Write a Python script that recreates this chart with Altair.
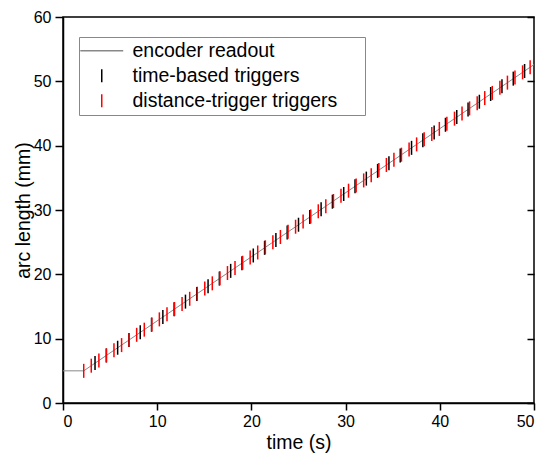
import altair as alt
import pandas as pd

series_names = ["encoder readout", "time-based triggers", "distance-trigger triggers"]
series_colors = ["#888888", "#000000", "#ff0000"]
series_shapes = ["M-3.3,0L3.3,0", "M0,-1L0,1", "M0,-1L0,1"]

# encoder readout (time s, arc length mm)
encoder_t = [0.0, 2.2, 50.0]
encoder_y = [5.0, 5.0, 52.6]

# time-based triggers
time_trig_t = [3.4, 4.6, 5.8, 7.0, 8.2, 9.4, 10.6, 11.8, 13.0, 14.2, 15.4, 16.6, 17.8,
               19.0, 20.2, 21.4, 22.6, 23.8, 25.0, 26.2, 27.4, 28.6, 29.8, 31.0, 32.2,
               33.4, 34.6, 35.8, 37.0, 38.2, 39.4, 40.6, 41.8, 43.0, 44.2, 45.4, 46.6,
               47.8, 49.0]
time_trig_y = [6.20, 7.39, 8.59, 9.78, 10.98, 12.17, 13.37, 14.56, 15.76, 16.95, 18.15,
               19.34, 20.54, 21.73, 22.93, 24.12, 25.32, 26.51, 27.71, 28.90, 30.10, 31.29,
               32.49, 33.68, 34.88, 36.08, 37.27, 38.47, 39.66, 40.86, 42.05, 43.25, 44.44,
               45.64, 46.83, 48.03, 49.22, 50.42, 51.61]

# distance-trigger triggers
dist_trig_t = [2.20, 3.00, 3.81, 4.61, 5.41, 6.22, 7.02, 7.82, 8.63, 9.43,
               10.23, 11.04, 11.84, 12.64, 13.45, 14.25, 15.05, 15.85, 16.66, 17.46,
               18.26, 19.07, 19.87, 20.67, 21.48, 22.28, 23.08, 23.89, 24.69, 25.49,
               26.30, 27.10, 27.90, 28.71, 29.51, 30.31, 31.12, 31.92, 32.72, 33.53,
               34.33, 35.13, 35.93, 36.74, 37.54, 38.34, 39.15, 39.95, 40.75, 41.56,
               42.36, 43.16, 43.97, 44.77, 45.57, 46.38, 47.18, 47.98, 48.79, 49.59]
dist_trig_y = [5.0, 5.8, 6.6, 7.4, 8.2, 9.0, 9.8, 10.6, 11.4, 12.2,
               13.0, 13.8, 14.6, 15.4, 16.2, 17.0, 17.8, 18.6, 19.4, 20.2,
               21.0, 21.8, 22.6, 23.4, 24.2, 25.0, 25.8, 26.6, 27.4, 28.2,
               29.0, 29.8, 30.6, 31.4, 32.2, 33.0, 33.8, 34.6, 35.4, 36.2,
               37.0, 37.8, 38.6, 39.4, 40.2, 41.0, 41.8, 42.6, 43.4, 44.2,
               45.0, 45.8, 46.6, 47.4, 48.2, 49.0, 49.8, 50.6, 51.4, 52.2]

x_ticks = [0, 10, 20, 30, 40, 50]
y_ticks = [0, 10, 20, 30, 40, 50, 60]

line_df = pd.DataFrame({"t": encoder_t, "y": encoder_y, "series": series_names[0]})
trig_df = pd.concat([
    pd.DataFrame({"t": time_trig_t, "y": time_trig_y, "series": series_names[1]}),
    pd.DataFrame({"t": dist_trig_t, "y": dist_trig_y, "series": series_names[2]}),
], ignore_index=True)

FONT = "Liberation Sans"

xscale = alt.Scale(domain=[0, 50], nice=False, zero=False)
yscale = alt.Scale(domain=[0, 60], nice=False)
color_scale = alt.Scale(domain=series_names, range=series_colors)
shape_scale = alt.Scale(domain=series_names, range=series_shapes)

# transparent right-side legend title only widens the legend frame
legend = alt.Legend(
    title="xx", titleOrient="right", titleColor="rgba(0,0,0,0)", titleFont=FONT,
    titleFontSize=19.5, titlePadding=2,
    orient="none", legendX=16, legendY=20,
    labelFont=FONT, labelFontSize=19.5, labelColor="black", labelLimit=500,
    symbolSize=169, symbolStrokeWidth=1.5, symbolOffset=9, labelOffset=21,
    padding=4, rowPadding=4, strokeColor="#888888", fillColor="white",
)

x_axis = alt.Axis(values=x_ticks, title="time (s)", tickSize=7, labelPadding=3,
                  titlePadding=4, grid=False)
y_axis = alt.Axis(values=y_ticks, title="arc length (mm)", tickSize=8, labelPadding=4,
                  titlePadding=0, grid=False)

line = alt.Chart(line_df).mark_line(strokeWidth=1).encode(
    x=alt.X("t:Q", scale=xscale, axis=x_axis),
    y=alt.Y("y:Q", scale=yscale, axis=y_axis),
    color=alt.Color("series:N", scale=color_scale, legend=legend),
)

trig = alt.Chart(trig_df).mark_point(filled=False, size=196, strokeWidth=1.5, opacity=1).encode(
    x=alt.X("t:Q", scale=xscale),
    y=alt.Y("y:Q", scale=yscale, axis=None),
    color=alt.Color("series:N", scale=color_scale, legend=legend),
    shape=alt.Shape("series:N", scale=shape_scale, legend=legend),
    order=alt.Order("series:N", sort="descending"),
)

right = alt.Chart(line_df).mark_line(strokeOpacity=0).encode(
    x=alt.X("t:Q", scale=xscale),
    y=alt.Y("y:Q", scale=yscale,
            axis=alt.Axis(orient="right", values=y_ticks, title=None, labels=False,
                          domain=False, tickSize=7, offset=-7, grid=False)),
)

chart = alt.layer(line, trig, right).resolve_axis(y="independent").properties(
    width=471, height=386,
    autosize=alt.AutoSizeParams(type="none"),
    padding={"left": 55, "top": 9, "right": 9, "bottom": 53},
).configure_axis(
    labelFont=FONT, labelFontSize=16, labelColor="black",
    titleFont=FONT, titleFontSize=19.5, titleFontWeight="normal", titleColor="black",
    domainColor="black", domainWidth=1.5, tickColor="black", tickWidth=1.5,
).configure_view(stroke="black", strokeWidth=1.5)

chart.save("out.html", embed_options={"renderer": "svg", "actions": False})
